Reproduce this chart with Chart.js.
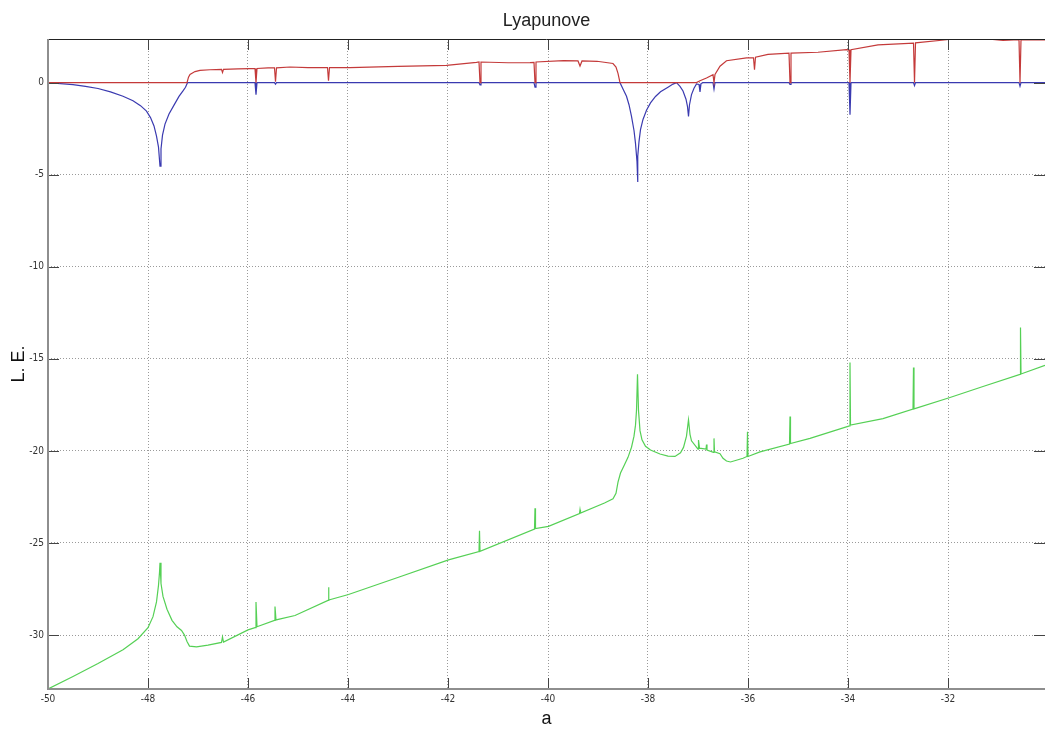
<!DOCTYPE html>
<html>
<head>
<meta charset="utf-8">
<title>Lyapunove</title>
<script src="https://cdn.jsdelivr.net/npm/chart.js@4.4.1/dist/chart.umd.min.js"></script>
<style>
  html, body { margin: 0; padding: 0; background: #fff; overflow: hidden; }
  #wrap { width: 1045px; height: 731px; }
</style>
</head>
<body>
<div id="wrap"><canvas id="lyap"></canvas></div>
<script>
// -- Data --
const xTicks = [-50, -48, -46, -44, -42, -40, -38, -36, -34, -32];
const yTicks = [-30, -25, -20, -15, -10, -5, 0];

// largest exponent (red)
const aRed = [-50, -47.22, -47.19, -47.16, -47.06, -46.96, -46.76, -46.53, -46.51, -46.49,
  -46.2, -45.96, -45.86, -45.84, -45.82, -45.6, -45.47, -45.45, -45.43, -45.16,
  -44.8, -44.41, -44.39, -44.37, -43.96, -43.0, -42.03, -41.43, -41.38, -41.36,
  -41.34, -40.8, -40.36, -40.28, -40.26, -40.24, -39.69, -39.4, -39.36, -39.32,
  -39.02, -38.7, -38.64, -38.6, -38.56, -37.03, -36.96, -36.83, -36.7, -36.68,
  -36.66, -36.56, -36.43, -36.03, -35.89, -35.87, -35.85, -35.6, -35.18, -35.16,
  -35.14, -34.6, -34.03, -33.98, -33.96, -33.94, -33.4, -32.69, -32.67, -32.65,
  -32.03, -31.8, -31.5, -31.16, -30.9, -30.58, -30.56, -30.54, -30.06];
const leRed = [0, 0, 0.3, 0.45, 0.6, 0.67, 0.7, 0.72, 0.55, 0.72,
  0.75, 0.76, 0.76, 0, 0.77, 0.8, 0.8, 0.05, 0.8, 0.85,
  0.82, 0.82, 0.1, 0.82, 0.82, 0.88, 0.94, 1.1, 1.12, 0,
  1.12, 1.08, 1.09, 1.1, 0, 1.12, 1.2, 1.18, 0.9, 1.18,
  1.16, 1.04, 0.85, 0.5, 0, 0, 0.1, 0.25, 0.43, 0,
  0.45, 0.89, 1.19, 1.34, 1.35, 0.7, 1.38, 1.53, 1.6, 0,
  1.6, 1.65, 1.79, 1.78, 0, 1.79, 2.05, 2.15, 0, 2.16,
  2.33, 2.41, 2.46, 2.36, 2.3, 2.33, 0, 2.33, 2.32];

// second exponent (blue)
const aBlue = [-50, -49.75, -49.5, -49.25, -49.0, -48.75, -48.5, -48.3, -48.15, -48.03,
  -47.95, -47.88, -47.83, -47.79, -47.76, -47.74, -47.71, -47.66, -47.58, -47.48,
  -47.38, -47.3, -47.25, -47.21, -45.86, -45.84, -45.82, -45.47, -45.45, -45.43,
  -41.38, -41.36, -41.34, -40.28, -40.26, -40.24, -38.56, -38.5, -38.43, -38.38,
  -38.33, -38.28, -38.25, -38.22, -38.21, -38.2, -38.18, -38.15, -38.1, -38.03,
  -37.95, -37.85, -37.75, -37.6, -37.5, -37.43, -37.36, -37.3, -37.24, -37.21,
  -37.19, -37.17, -37.13, -37.08, -37.03, -36.98, -36.96, -36.94, -36.9, -36.7,
  -36.68, -36.66, -35.18, -35.16, -35.14, -33.98, -33.96, -33.94, -32.69, -32.67,
  -32.65, -30.58, -30.56, -30.54, -30.06];
const leBlue = [0, -0.05, -0.11, -0.2, -0.32, -0.5, -0.74, -0.98, -1.25, -1.55,
  -1.9, -2.35, -2.9, -3.5, -4.54, -3.6, -2.85, -2.25, -1.7, -1.22,
  -0.75, -0.45, -0.25, 0, 0, -0.65, 0, 0, -0.08, 0,
  0, -0.12, 0, 0, -0.25, 0, 0, -0.35, -0.74, -1.2,
  -1.83, -2.6, -3.3, -4.3, -5.4, -4.0, -3.2, -2.55, -2.0, -1.5,
  -1.1, -0.75, -0.5, -0.25, -0.08, 0, -0.2, -0.45, -0.9, -1.3,
  -1.83, -1.2, -0.65, -0.3, -0.07, -0.1, -0.5, -0.05, 0, 0,
  -0.35, 0, 0, -0.1, 0, 0, -1.74, 0, 0, -0.16,
  0, 0, -0.2, 0, 0];

// third exponent (green)
const aGreen = [-50, -49.5, -49.0, -48.5, -48.2, -48.0, -47.9, -47.83, -47.79, -47.77,
  -47.76, -47.74, -47.7, -47.62, -47.52, -47.42, -47.33, -47.27, -47.22, -47.17,
  -47.03, -46.8, -46.53, -46.51, -46.49, -46.0, -45.86, -45.84, -45.82, -45.47,
  -45.46, -45.44, -45.06, -44.4, -44.39, -44.38, -43.99, -42.99, -41.99, -41.38,
  -41.37, -41.36, -40.27, -40.26, -40.25, -39.99, -39.37, -39.36, -39.35, -38.87,
  -38.7, -38.64, -38.6, -38.55, -38.48, -38.4, -38.33, -38.28, -38.25, -38.23,
  -38.21, -38.19, -38.16, -38.12, -38.05, -37.95, -37.76, -37.6, -37.46, -37.35,
  -37.29, -37.23, -37.19, -37.16, -37.13, -37.0, -36.99, -36.97, -36.84, -36.83,
  -36.82, -36.69, -36.68, -36.67, -36.56, -36.5, -36.43, -36.35, -36.25, -36.1,
  -36.02, -36.01, -36.0, -35.76, -35.17, -35.16, -35.15, -34.76, -33.97, -33.96,
  -33.95, -33.3, -32.7, -32.69, -32.68, -31.96, -31.3, -30.56, -30.55, -30.54,
  -30.06];
const leGreen = [-32.93, -32.25, -31.55, -30.8, -30.2, -29.6, -29.0, -28.2, -27.3, -26.6,
  -26.08, -27.2, -27.9, -28.6, -29.2, -29.55, -29.75, -30.0, -30.35, -30.6,
  -30.64, -30.55, -30.4, -30.1, -30.38, -29.72, -29.6, -28.2, -29.55, -29.2,
  -28.45, -29.18, -28.94, -28.12, -27.4, -28.1, -27.8, -26.86, -25.92, -25.47,
  -24.33, -25.45, -24.24, -23.12, -24.22, -24.1, -23.4, -23.2, -23.38, -22.83,
  -22.6, -22.3, -21.7, -21.2, -20.8, -20.35, -19.8, -19.2, -18.6, -17.8,
  -15.84, -17.8, -18.9, -19.4, -19.75, -19.95, -20.17, -20.28, -20.3, -20.1,
  -19.81, -19.2, -18.31, -19.1, -19.45, -19.9, -19.41, -19.85, -19.9, -19.65,
  -19.95, -20.08, -19.32, -20.05, -20.15, -20.4, -20.55, -20.6, -20.52, -20.4,
  -20.3, -18.96, -20.3, -20.05, -19.63, -18.13, -19.6, -19.32, -18.64, -15.2,
  -18.6, -18.25, -17.73, -15.47, -17.72, -17.1, -16.5, -15.84, -13.3, -15.82,
  -15.35];

const X_MIN = -50, X_MAX = -30.06;
const Y_MIN = -32.93, Y_MAX = 2.37;

function pts(xs, ys) {
    return xs.map((v, i) => ({ x: v, y: ys[i] }));
}

// -- Inward tick marks and axis frame, MATLAB style --
const TICK = 11;
const framePlugin = {
    id: 'frame',
    afterDraw(chart) {
        const { ctx, chartArea, scales } = chart;
        const { left, right, top, bottom } = chartArea;
        ctx.save();
        ctx.lineWidth = 1;
        ctx.strokeStyle = '#444';
        ctx.beginPath();
        xTicks.forEach(v => {
            const p = Math.round(scales.x.getPixelForValue(v)) + 0.5;
            ctx.moveTo(p, bottom); ctx.lineTo(p, bottom - TICK);
            ctx.moveTo(p, top); ctx.lineTo(p, top + TICK);
        });
        yTicks.forEach(v => {
            const p = Math.round(scales.y.getPixelForValue(v)) + 0.5;
            ctx.moveTo(left, p); ctx.lineTo(left + TICK, p);
            ctx.moveTo(right, p); ctx.lineTo(right - TICK, p);
        });
        ctx.stroke();

        // top border
        ctx.strokeStyle = '#222';
        ctx.beginPath();
        ctx.moveTo(left, Math.round(top) + 0.5);
        ctx.lineTo(right, Math.round(top) + 0.5);
        ctx.stroke();

        // left and bottom axis lines
        ctx.strokeStyle = '#8e8e8e';
        ctx.lineWidth = 2;
        ctx.beginPath();
        ctx.moveTo(Math.round(left), top);
        ctx.lineTo(Math.round(left), Math.round(bottom));
        ctx.lineTo(right, Math.round(bottom));
        ctx.stroke();
        ctx.restore();
    }
};

const tickFont = { family: "'Liberation Sans Narrow', 'DejaVu Sans Condensed', 'Liberation Sans', sans-serif", size: 10 };
const labelFont = { family: "'Liberation Sans', Arial, sans-serif", size: 18 };

const lineStyle = { pointRadius: 0, borderWidth: 1.2, tension: 0, fill: false };

new Chart(document.getElementById('lyap'), {
    type: 'line',
    data: {
        datasets: [
            { label: 'L1', data: pts(aRed, leRed), borderColor: '#c43a3a', ...lineStyle },
            { label: 'L2', data: pts(aBlue, leBlue), borderColor: '#3a3ab0', ...lineStyle },
            { label: 'L3', data: pts(aGreen, leGreen), borderColor: '#55d055', ...lineStyle }
        ]
    },
    options: {
        responsive: true,
        maintainAspectRatio: false,
        animation: false,
        layout: { padding: { left: 0, right: 0, top: 0, bottom: 0 } },
        plugins: {
            legend: { display: false },
            tooltip: { enabled: false },
            title: {
                display: true,
                fullSize: false,
                text: 'Lyapunove',
                color: '#222',
                font: { family: "'Liberation Sans', Arial, sans-serif", size: 18, weight: 'normal' },
                padding: { top: 10, bottom: 7.4 }
            }
        },
        scales: {
            x: {
                type: 'linear',
                min: X_MIN,
                max: X_MAX,
                afterFit: s => { s.height = 42; },
                grid: { color: '#9a9a9a', lineWidth: 1, drawTicks: false },
                border: { display: false, dash: [1, 2] },
                ticks: {
                    stepSize: 2,
                    includeBounds: false,
                    autoSkip: false,
                    maxRotation: 0,
                    padding: 4,
                    color: '#333',
                    font: tickFont
                },
                title: { display: true, text: 'a', color: '#111', font: labelFont, padding: { top: 0, bottom: 1 } }
            },
            y: {
                type: 'linear',
                min: Y_MIN,
                max: Y_MAX,
                afterFit: s => { s.width = 48; },
                grid: { color: '#9a9a9a', lineWidth: 1, drawTicks: false },
                border: { display: false, dash: [1, 2] },
                ticks: {
                    stepSize: 5,
                    includeBounds: false,
                    padding: 4,
                    color: '#333',
                    font: tickFont
                },
                title: { display: true, text: 'L. E.', color: '#111', font: labelFont, padding: { top: 8, bottom: 0 } }
            }
        }
    },
    plugins: [framePlugin]
});
</script>
</body>
</html>
